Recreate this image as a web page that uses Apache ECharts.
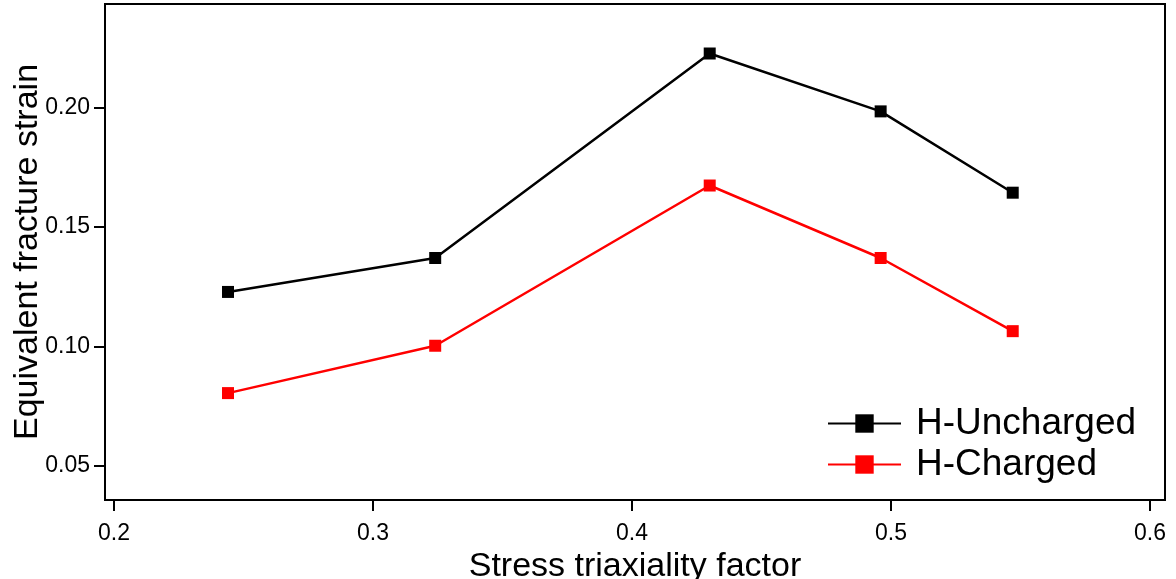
<!DOCTYPE html>
<html><head><meta charset="utf-8">
<script src="https://cdn.jsdelivr.net/npm/echarts@6/dist/echarts.min.js"></script>
<style>html,body{margin:0;padding:0;background:#fff}#c{width:1176px;height:579px}</style>
</head><body><div id="c"></div>
<script>
const triaxiality = [0.244, 0.324, 0.430, 0.496, 0.547];
const uncharged = [0.1228, 0.1370, 0.2225, 0.1983, 0.1643];
const charged = [0.0805, 0.1003, 0.1673, 0.1370, 0.1064];
const seriesNames = ['H-Uncharged', 'H-Charged'];
const xTicks = ['0.2', '0.3', '0.4', '0.5', '0.6'];
const yTicks = ['0.05', '0.10', '0.15', '0.20'];

const font = '"Liberation Sans", Arial, sans-serif';
const chart = echarts.init(document.getElementById('c'));
function pts(ys){ return triaxiality.map((x,i)=>[x, ys[i]]); }
chart.setOption({
  animation: false,
  grid: { left: 105, right: 11, top: 4, bottom: 79, outerBoundsMode: 'none', containLabel: false,
          show: true, borderColor: '#000', borderWidth: 2, backgroundColor: 'transparent' },
  xAxis: {
    type: 'value', min: 0.1965, max: 0.6058,
    name: 'Stress triaxiality factor', nameLocation: 'middle', nameGap: 44,
    nameTextStyle: { fontFamily: font, fontSize: 34, color: '#000' },
    axisLine: { show: true, lineStyle: { color: '#000', width: 2 } },
    axisTick: { show: true, length: 11, lineStyle: { color: '#000', width: 2 }, customValues: xTicks.map(Number) },
    axisLabel: { fontFamily: font, fontSize: 23, color: '#000', margin: 22, customValues: xTicks.map(Number),
                 formatter: v => xTicks[Math.round((v-0.2)*10)] },
    splitLine: { show: false }
  },
  yAxis: {
    type: 'value', min: 0.0358, max: 0.2432,
    name: 'Equivalent fracture strain', nameLocation: 'middle', nameGap: 60, nameMoveOverlap: false,
    nameTextStyle: { fontFamily: font, fontSize: 34, color: '#000' },
    axisLine: { show: true, lineStyle: { color: '#000', width: 2 } },
    axisTick: { show: true, length: 11, lineStyle: { color: '#000', width: 2 }, customValues: yTicks.map(Number) },
    axisLabel: { fontFamily: font, fontSize: 23, color: '#000', margin: 15, align: 'right', customValues: yTicks.map(Number),
                 formatter: v => v.toFixed(2) },
    splitLine: { show: false }
  },
  legend: {
    orient: 'vertical', left: 822, top: 400, itemGap: 4,
    itemWidth: 73, itemHeight: 23,
    textStyle: { fontFamily: font, fontSize: 37, color: '#000', padding: [0, 0, 0, 10] },
    data: seriesNames
  },
  series: [
    { name: seriesNames[0], type: 'line', data: pts(uncharged), symbol: 'rect', symbolSize: 12,
      itemStyle: { color: '#000' }, lineStyle: { color: '#000', width: 2.5 } },
    { name: seriesNames[1], type: 'line', data: pts(charged), symbol: 'rect', symbolSize: 12,
      itemStyle: { color: '#ff0000' }, lineStyle: { color: '#ff0000', width: 2.5 } }
  ]
});
</script></body></html>
